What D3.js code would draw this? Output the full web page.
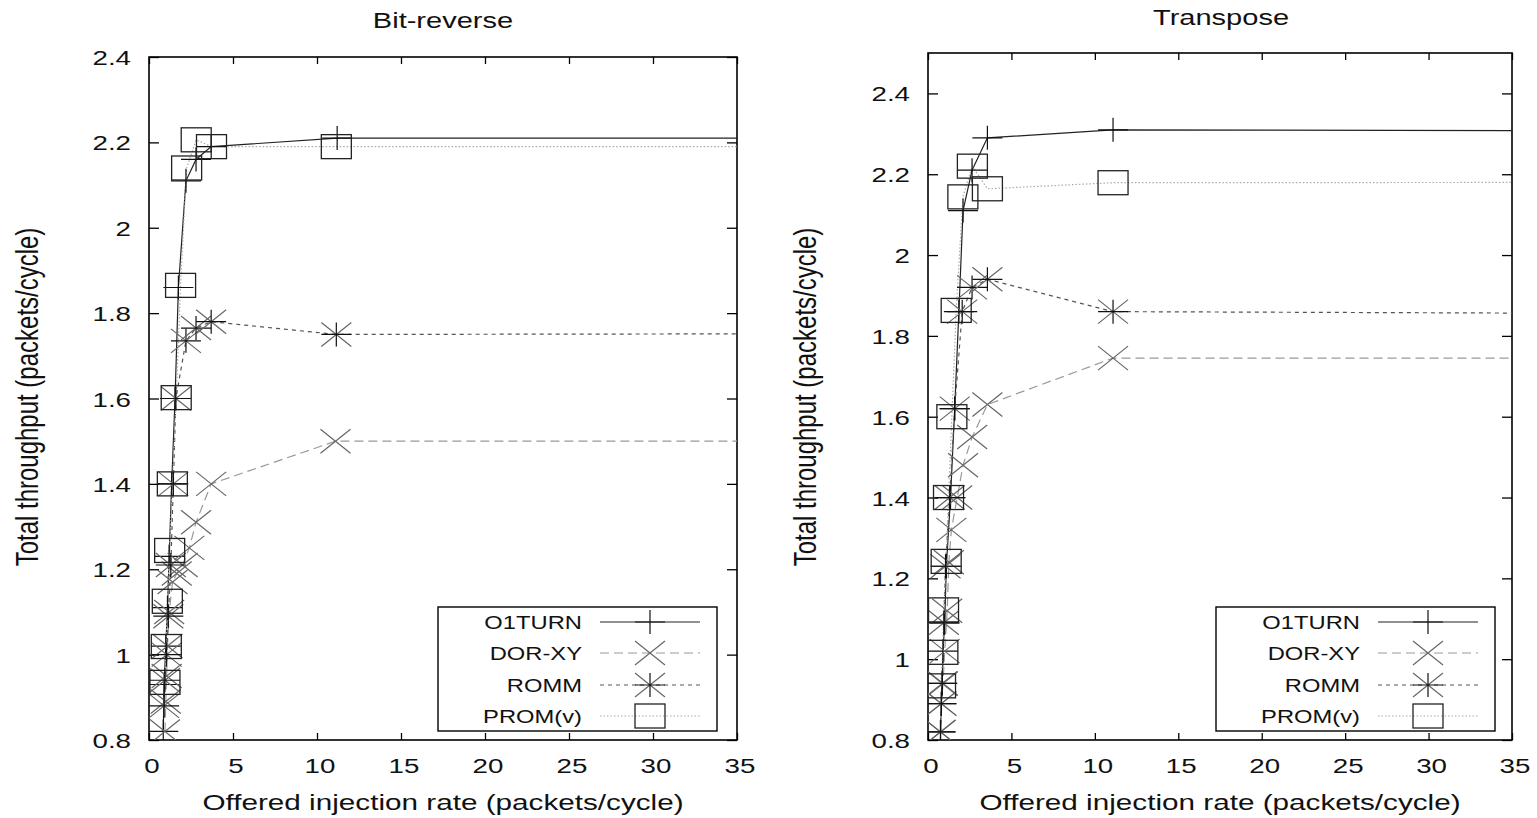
<!DOCTYPE html>
<html>
<head>
<meta charset="utf-8">
<script src="https://cdn.jsdelivr.net/npm/d3@7"></script>
<style>
  body { margin: 0; background: #fff; }
  text { font-family: "Liberation Sans", Arial, Helvetica, sans-serif; fill: #111; }
</style>
</head>
<body>
<div id="main"></div>
<script>
// tick values
var xTickValues = [0, 5, 10, 15, 20, 25, 30, 35];
var yTickValues = [0.8, 1, 1.2, 1.4, 1.6, 1.8, 2, 2.2, 2.4];
var seriesNames = ["O1TURN", "DOR-XY", "ROMM", "PROM(v)"];

// Bit-reverse (last point lies past the x range, clipped)
var bitrevO1turnX = [0.85, 0.9, 1.0, 1.1, 1.2, 1.35, 1.55, 1.75, 2.2, 2.8, 3.7, 11.2, 45];
var bitrevO1turnY = [0.82, 0.93, 1.02, 1.11, 1.23, 1.40, 1.60, 1.86, 2.11, 2.16, 2.19, 2.21, 2.21];
var bitrevDorxyX = [0.95, 1.0, 1.05, 1.1, 1.2, 1.4, 1.65, 2.0, 2.4, 2.8, 3.7, 11.1, 45];
var bitrevDorxyY = [0.82, 0.89, 0.95, 1.02, 1.10, 1.17, 1.19, 1.21, 1.25, 1.31, 1.40, 1.50, 1.50];
var bitrevRommX = [0.9, 0.95, 1.05, 1.15, 1.3, 1.45, 1.6, 2.2, 2.8, 3.7, 11.15, 45];
var bitrevRommY = [0.88, 0.94, 1.0, 1.09, 1.21, 1.40, 1.60, 1.735, 1.765, 1.78, 1.75, 1.752];
var bitrevPromX = [0.95, 1.03, 1.09, 1.23, 1.39, 1.62, 1.88, 2.24, 2.81, 3.72, 11.15, 45];
var bitrevPromY = [0.935, 1.019, 1.125, 1.244, 1.40, 1.602, 1.865, 2.14, 2.206, 2.19, 2.19, 2.19];

// Transpose
var transO1turnX = [0.75, 0.8, 0.85, 0.9, 1.0, 1.1, 1.35, 1.6, 1.85, 2.1, 2.64, 3.56, 11.09, 45];
var transO1turnY = [0.82, 0.89, 0.94, 1.02, 1.09, 1.23, 1.40, 1.62, 1.86, 2.11, 2.21, 2.29, 2.31, 2.307];
var transDorxyX = [0.75, 0.8, 0.9, 1.0, 1.15, 1.25, 1.4, 1.75, 2.1, 2.65, 3.56, 11.09, 45];
var transDorxyY = [0.82, 0.89, 0.94, 1.02, 1.12, 1.24, 1.32, 1.40, 1.48, 1.55, 1.63, 1.745, 1.745];
var transRommX = [0.75, 0.8, 0.85, 0.95, 1.05, 1.3, 1.6, 2.05, 2.64, 3.56, 11.09, 45];
var transRommY = [0.82, 0.89, 0.94, 1.09, 1.23, 1.40, 1.62, 1.86, 1.92, 1.94, 1.86, 1.855];
var transPromX = [0.75, 0.89, 0.93, 1.09, 1.23, 1.43, 1.69, 2.09, 2.66, 3.56, 11.09, 45];
var transPromY = [0.934, 1.017, 1.122, 1.242, 1.40, 1.60, 1.863, 2.144, 2.22, 2.164, 2.179, 2.18];

function zip(xs, ys) { return xs.map(function(x, i) { return [x, ys[i]]; }); }

// line / point style per series (gnuplot monochrome look)
var styles = [
  { marker: "plus",  stroke: "#222", dash: null,  mcol: "#111" },
  { marker: "cross", stroke: "#999", dash: "9,5", mcol: "#666" },
  { marker: "star",  stroke: "#555", dash: "4,4", mcol: "#666" },
  { marker: "box",   stroke: "#aaa", dash: "1.5,2", mcol: "#222" }
];

var panels = [
  { title: "Bit-reverse", left: 149, right: 737, top: 57, bottom: 740, yDomain: [0.8, 2.4],
    titleX: 443, titleY: 28, ylabX: 38, legendX: 438,
    series: [zip(bitrevO1turnX, bitrevO1turnY), zip(bitrevDorxyX, bitrevDorxyY),
             zip(bitrevRommX, bitrevRommY), zip(bitrevPromX, bitrevPromY)] },
  { title: "Transpose", left: 928, right: 1512, top: 53, bottom: 740, yDomain: [0.8, 2.5],
    titleX: 1221, titleY: 25, ylabX: 816, legendX: 1216,
    series: [zip(transO1turnX, transO1turnY), zip(transDorxyX, transDorxyY),
             zip(transRommX, transRommY), zip(transPromX, transPromY)] }
];

var SX = 1.32; // the original picture is stretched sideways
var HW = 15, HH = 12;

var svg = d3.select("#main").append("svg")
    .attr("width", 1537)
    .attr("height", 818);

function marker(g, type, cx, cy, col) {
  var p = d3.path();
  if (type === "plus" || type === "star") {
    p.moveTo(cx - HW, cy); p.lineTo(cx + HW, cy);
    p.moveTo(cx, cy - HH); p.lineTo(cx, cy + HH);
  }
  if (type === "cross" || type === "star") {
    var q = d3.path();
    q.moveTo(cx - HW, cy - HH); q.lineTo(cx + HW, cy + HH);
    q.moveTo(cx - HW, cy + HH); q.lineTo(cx + HW, cy - HH);
    g.append("path").attr("d", q.toString()).attr("fill", "none")
      .attr("stroke", "#666").attr("stroke-width", 1.2);
  }
  if (type === "box") {
    g.append("rect").attr("x", cx - HW).attr("y", cy - HH)
      .attr("width", 2 * HW).attr("height", 2 * HH)
      .attr("fill", "none").attr("stroke", col).attr("stroke-width", 1.3);
    return;
  }
  if (type !== "cross")
    g.append("path").attr("d", p.toString()).attr("fill", "none")
      .attr("stroke", type === "star" ? "#111" : col).attr("stroke-width", 1.2);
}

function stretchedText(g, x, y, str, size, anchor, rot) {
  return g.append("text")
    .attr("transform", "translate(" + x + "," + y + ") scale(" + SX + ",1)" + (rot ? " rotate(-90)" : ""))
    .attr("text-anchor", anchor)
    .attr("font-size", size)
    .text(str);
}

panels.forEach(function(pn, pi) {
  var x = d3.scaleLinear().domain([0, 35]).range([pn.left, pn.right]);
  var y = d3.scaleLinear().domain(pn.yDomain).range([pn.bottom, pn.top]);
  var g = svg.append("g");

  var clipId = "clip" + pi;
  svg.append("clipPath").attr("id", clipId).append("rect")
    .attr("x", pn.left).attr("y", pn.top)
    .attr("width", pn.right - pn.left).attr("height", pn.bottom - pn.top);

  // inward ticks on all four sides
  var ax = [
    { a: d3.axisBottom(x).tickValues(xTickValues).tickSize(-7), t: pn.bottom, lab: true },
    { a: d3.axisTop(x).tickValues(xTickValues).tickSize(-7), t: pn.top, lab: false }
  ];
  ax.forEach(function(o) {
    var ag = g.append("g").attr("transform", "translate(0," + o.t + ")").call(o.a);
    ag.select(".domain").remove();
    ag.selectAll(".tick line").attr("stroke", "#000").attr("stroke-width", 1.3);
    ag.selectAll(".tick text").remove();
  });
  var ay = [
    { a: d3.axisLeft(y).tickValues(yTickValues).tickSize(-10), t: pn.left },
    { a: d3.axisRight(y).tickValues(yTickValues).tickSize(-10), t: pn.right }
  ];
  ay.forEach(function(o) {
    var ag = g.append("g").attr("transform", "translate(" + o.t + ",0)").call(o.a);
    ag.select(".domain").remove();
    ag.selectAll(".tick line").attr("stroke", "#000").attr("stroke-width", 1.3);
    ag.selectAll(".tick text").remove();
  });

  xTickValues.forEach(function(v) {
    stretchedText(g, x(v) + 3, pn.bottom + 33, d3.format("")(v), 21, "middle");
  });
  yTickValues.forEach(function(v) {
    stretchedText(g, pn.left - 18, y(v) + 8, d3.format("")(v), 21, "end");
  });

  // frame
  g.append("rect").attr("x", pn.left).attr("y", pn.top)
    .attr("width", pn.right - pn.left).attr("height", pn.bottom - pn.top)
    .attr("fill", "none").attr("stroke", "#000").attr("stroke-width", 1.6);

  stretchedText(g, pn.titleX, pn.titleY, pn.title, 22, "middle");
  stretchedText(g, (pn.left + pn.right) / 2, 810, "Offered injection rate (packets/cycle)", 22.5, "middle");
  stretchedText(g, pn.ylabX, 397, "Total throughput (packets/cycle)", 24, "middle", true);

  var line = d3.line().x(function(d) { return x(d[0]); }).y(function(d) { return y(d[1]); });
  var plot = g.append("g").attr("clip-path", "url(#" + clipId + ")");

  pn.series.forEach(function(s, si) {
    var st = styles[si];
    plot.append("path").datum(s).attr("d", line)
      .attr("fill", "none").attr("stroke", st.stroke).attr("stroke-width", 1.2)
      .attr("stroke-dasharray", st.dash);
  });
  pn.series.forEach(function(s, si) {
    var st = styles[si];
    s.forEach(function(d) { marker(plot, st.marker, x(d[0]), y(d[1]), st.mcol); });
  });

  // legend
  var lx = pn.legendX, ly = 607;
  var lg = g.append("g");
  lg.append("rect").attr("x", lx).attr("y", ly).attr("width", 279).attr("height", 124)
    .attr("fill", "#fff").attr("stroke", "#000").attr("stroke-width", 1.4);
  var rows = [15, 46, 78, 109];
  seriesNames.forEach(function(name, i) {
    var st = styles[i], ry = ly + rows[i];
    stretchedText(lg, lx + 144, ry + 7, name, 18, "end");
    lg.append("line").attr("x1", lx + 162).attr("x2", lx + 262).attr("y1", ry).attr("y2", ry)
      .attr("stroke", st.stroke).attr("stroke-width", 1.2).attr("stroke-dasharray", st.dash);
    marker(lg, st.marker, lx + 212, ry, st.mcol);
  });
});
</script>
</body>
</html>
